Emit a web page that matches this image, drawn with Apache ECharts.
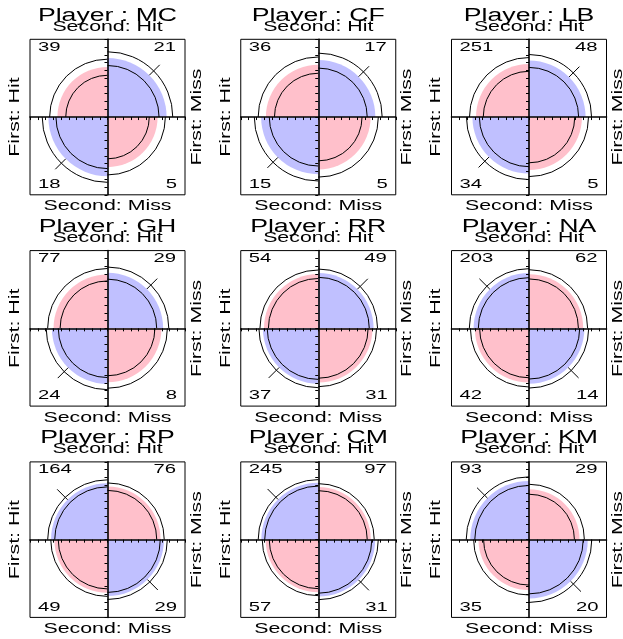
<!DOCTYPE html>
<html>
<head>
<meta charset="utf-8">
<script src="https://cdn.jsdelivr.net/npm/echarts@6/dist/echarts.min.js"></script>
<style>
  html, body { margin: 0; padding: 0; background: #fff; }
  #chart { width: 623px; height: 639px; }
</style>
</head>
<body>
<div id="chart"></div>
<script>
// Free-throw outcomes per player: first shot (Hit/Miss) by second shot (Hit/Miss)
const players = ['MC', 'CF', 'LB', 'GH', 'RR', 'NA', 'RP', 'CM', 'KM'];
const firstHitSecondHit   = [39, 36, 251, 77, 54, 203, 164, 245, 93];
const firstMissSecondHit  = [21, 17, 48, 29, 49, 62, 76, 97, 29];
const firstHitSecondMiss  = [18, 15, 34, 24, 37, 42, 49, 57, 35];
const firstMissSecondMiss = [5, 5, 5, 8, 31, 14, 29, 31, 20];

const topLabel = 'Second: Hit';
const bottomLabel = 'Second: Miss';
const leftLabel = 'First: Hit';
const rightLabel = 'First: Miss';

// Panel frame layout (3 x 3)
const COL_LEFT = [30, 240.75, 451.5];
const ROW_TOP = [39.3, 250.6, 461.9];
const FRAME_W = 155;
const FRAME_H = 155.5;

const PINK = '#ffc0cb';
const BLUE = '#c0c0ff';
const FONT = '"Liberation Sans", Arial, Helvetica, sans-serif';
const STRETCH = 1.47;
const Z95 = 1.959964;

// Cells of a 2x2 table standardized to equal margins (total 1) for odds ratio theta
function stdCells(theta) {
  const s = Math.sqrt(theta);
  return { diag: s / (2 * (1 + s)), off: 1 / (2 * (1 + s)) };
}
// Axis unit: frame half-width corresponds to a standardized cell of 0.5
const radiusOf = p => Math.sqrt(2 * p);

const grids = [], xAxes = [], yAxes = [], series = [], graphics = [];

function text(str, x, y, size, extra) {
  return Object.assign({
    type: 'text', x: x, y: y, scaleX: STRETCH, silent: true,
    style: { text: str, x: 0, y: 0, fill: '#000', font: size + 'px ' + FONT,
             align: 'center', verticalAlign: 'middle' }
  }, extra || {});
}

players.forEach((name, i) => {
  const col = i % 3, row = Math.floor(i / 3);
  const fl = COL_LEFT[col], ft = ROW_TOP[row];
  const fr = fl + FRAME_W, fb = ft + FRAME_H;
  const cx = fl + FRAME_W / 2;
  const cy = ft + FRAME_H / 2;

  grids.push({ left: fl, top: ft, width: FRAME_W, height: FRAME_H, show: true,
               borderColor: '#000', borderWidth: 1, backgroundColor: 'transparent' });
  const axisBase = {
    type: 'value', min: -1, max: 1, interval: 0.1, gridIndex: i, z: 5,
    axisLine: { show: true, onZero: true, lineStyle: { color: '#000', width: 1.6 } },
    axisTick: { show: true, length: 3, lineStyle: { color: '#000', width: 1 } },
    axisLabel: { show: false }, splitLine: { show: false }
  };
  xAxes.push(Object.assign({}, axisBase));
  yAxes.push(Object.assign({}, axisBase));

  const hh = firstHitSecondHit[i], mh = firstMissSecondHit[i];
  const hm = firstHitSecondMiss[i], mm = firstMissSecondMiss[i];
  const theta = (hh * mm) / (mh * hm);
  const se = Math.sqrt(1 / hh + 1 / mh + 1 / hm + 1 / mm);
  const thetaLo = theta * Math.exp(-Z95 * se);
  const thetaHi = theta * Math.exp(Z95 * se);
  const fit = stdCells(theta), lo = stdCells(thetaLo), hi = stdCells(thetaHi);

  // quadrant: 0 upper-left, 1 upper-right, 2 lower-left, 3 lower-right
  const data = [0, 1, 2, 3].map(q => {
    const diag = (q === 0 || q === 3);
    const key = diag ? 'diag' : 'off';
    const blue = theta < 1 ? !diag : diag;
    return [q, radiusOf(fit[key]), radiusOf(lo[key]), radiusOf(hi[key]), blue ? 1 : 0];
  });

  series.push({
    type: 'custom', xAxisIndex: i, yAxisIndex: i, z: 2, silent: true,
    data: data,
    renderItem: function (params, api) {
      const q = api.value(0);
      const c = api.coord([0, 0]);
      const unit = api.size([1, 0])[0];
      const rFill = api.value(1) * unit;
      const r1 = api.value(2) * unit;
      const r2 = api.value(3) * unit;
      const blue = api.value(4) === 1;
      const start = [Math.PI, 1.5 * Math.PI, 0.5 * Math.PI, 0][q];
      const end = start + 0.5 * Math.PI;
      const mid = start + 0.25 * Math.PI;
      const children = [
        { type: 'sector',
          shape: { cx: c[0], cy: c[1], r0: 0, r: rFill, startAngle: start, endAngle: end, clockwise: true },
          style: { fill: blue ? BLUE : PINK } },
        { type: 'arc',
          shape: { cx: c[0], cy: c[1], r: r1, startAngle: start, endAngle: end, clockwise: true },
          style: { stroke: '#000', lineWidth: 1, fill: null } },
        { type: 'arc',
          shape: { cx: c[0], cy: c[1], r: r2, startAngle: start, endAngle: end, clockwise: true },
          style: { stroke: '#000', lineWidth: 1, fill: null } }
      ];
      if (blue) {
        const tickLen = 0.19 * unit;
        const dx = Math.cos(mid), dy = Math.sin(mid);
        children.push({ type: 'line',
          shape: { x1: c[0] + dx * rFill, y1: c[1] + dy * rFill,
                   x2: c[0] + dx * (rFill + tickLen), y2: c[1] + dy * (rFill + tickLen) },
          style: { stroke: '#000', lineWidth: 1 } });
      }
      return { type: 'group', children: children };
    }
  });

  // Titles and margin labels
  graphics.push(text('Player : ' + name, cx, ft - 23.5, 18, { scaleX: 1.48 }));
  graphics.push(text(topLabel, cx, ft - 12.5, 14.5));
  graphics.push(text(bottomLabel, cx, fb + 11.5, 14.5));
  graphics.push(text(leftLabel, fl - 15.2, cy, 14.5, { rotation: Math.PI / 2 }));
  graphics.push(text(rightLabel, fr + 11.7, cy, 14.5, { rotation: Math.PI / 2 }));

  // Cell counts in the frame corners
  const numStyle = (str, x, y, align) => {
    const t = text(String(str), x, y, 13.5, { scaleX: 1.5 });
    t.style.align = align;
    return t;
  };
  graphics.push(numStyle(hh, fl + 8, ft + 7.5, 'left'));
  graphics.push(numStyle(mh, fr - 9, ft + 7.5, 'right'));
  graphics.push(numStyle(hm, fl + 8, fb - 10.5, 'left'));
  graphics.push(numStyle(mm, fr - 8, fb - 10.5, 'right'));
});

const chart = echarts.init(document.getElementById('chart'), null, { renderer: 'canvas' });
chart.setOption({
  animation: false,
  backgroundColor: '#fff',
  grid: grids,
  xAxis: xAxes,
  yAxis: yAxes,
  series: series,
  graphic: { elements: graphics }
});
</script>
</body>
</html>
